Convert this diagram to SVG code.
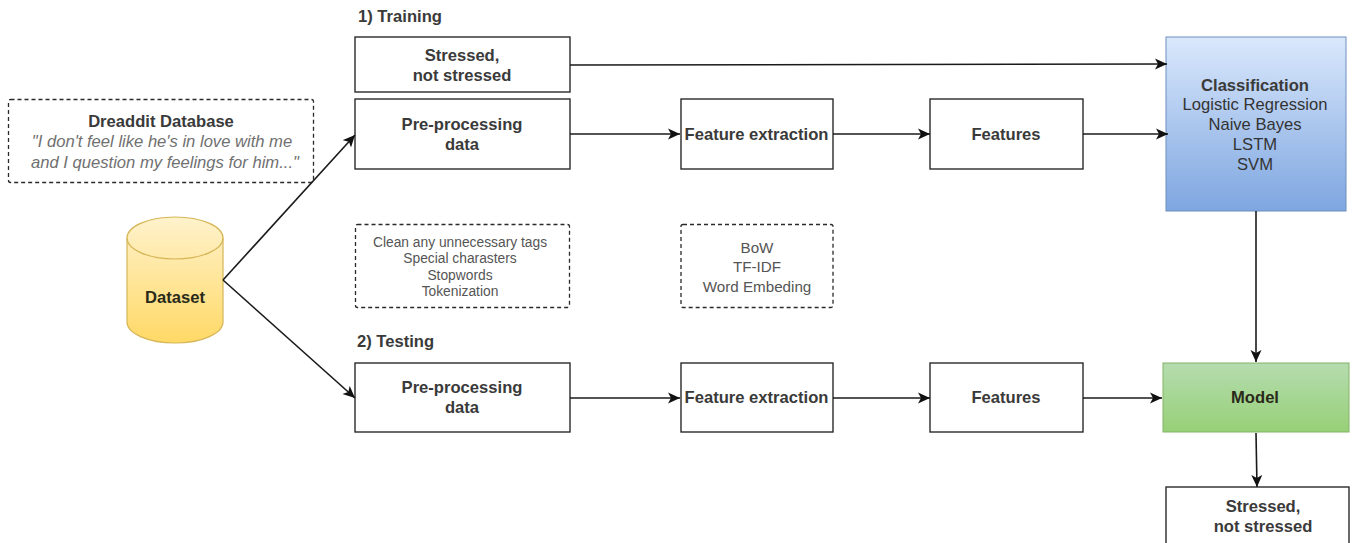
<svg xmlns="http://www.w3.org/2000/svg" width="1356" height="543" viewBox="0 0 1356 543">
<style>
text{font-family:"Liberation Sans",Arial,sans-serif;font-size:16.6px;text-anchor:middle;fill:#333;transform:translateY(.8px)}
.b{font-weight:bold;fill:#3a3a3a}
.box{fill:#fff;stroke:#2a2a2a;stroke-width:1.4}
.dash{fill:#fff;stroke:#2a2a2a;stroke-width:1.3;stroke-dasharray:4 3}
.c{fill:none;stroke:#1a1a1a;stroke-width:1.6;marker-end:url(#a)}
.s{font-size:13.8px;fill:#555}
.m{font-size:15.2px;fill:#555}
.i{font-style:italic;fill:#707070}
.l{text-anchor:start;font-weight:bold;fill:#3a3a3a}
.k{font-weight:bold;fill:#2a2a1a}
</style>
<defs>
<marker id="a" markerUnits="userSpaceOnUse" markerWidth="13" markerHeight="13" refX="12" refY="6" orient="auto"><path d="M0 0.500L12 6L0 11.500L3 6Z" fill="#111"/></marker>
<linearGradient id="y" x1="0" y1="0" x2="0" y2="1"><stop offset="0" stop-color="#fff2cc"/><stop offset="1" stop-color="#ffd966"/></linearGradient>
<linearGradient id="bl" x1="0" y1="0" x2="0" y2="1"><stop offset="0" stop-color="#dae8fc"/><stop offset="1" stop-color="#7ea6e0"/></linearGradient>
<linearGradient id="g" x1="0" y1="0" x2="0" y2="1"><stop offset="0" stop-color="#b5dcaf"/><stop offset="1" stop-color="#97d077"/></linearGradient>
</defs>
<text class="l" x="358" y="21">1) Training</text>
<text class="l" x="357" y="346">2) Testing</text>
<g id="stressed-top"><rect class="box" x="355" y="37" width="215" height="55"/><text class="b" x="462" y="60">Stressed,</text><text class="b" x="462" y="80">not stressed</text></g>
<g id="pre1"><rect class="box" x="355" y="99" width="215" height="70"/><text class="b" x="462" y="129">Pre-processing</text><text class="b" x="462" y="149">data</text></g>
<g id="fe1"><rect class="box" x="681" y="99" width="152" height="70"/><text class="b" x="756.500" y="139">Feature extraction</text></g>
<g id="f1"><rect class="box" x="930" y="99" width="153" height="70"/><text class="b" x="1006" y="139">Features</text></g>
<g id="db-note"><rect class="dash" x="8.500" y="99.500" width="305" height="83" rx="2"/><text class="b" x="161" y="126">Dreaddit Database</text><text class="i" x="162" y="146">"I don't feel like he's in love with me</text><text class="i" x="165" y="167">and I question my feelings for him..."</text></g>
<g id="dataset"><path d="M127 238A48 21 0 0 1 223 238V322A48 21 0 0 1 127 322Z" fill="url(#y)" stroke="#d6b656" stroke-width="1.2"/><path d="M127 238A48 21 0 0 0 223 238" fill="none" stroke="#d6b656" stroke-width="1.2"/><text class="k" x="175" y="302">Dataset</text></g>
<g id="clean-note"><rect class="dash" x="355.500" y="224.500" width="214" height="83" rx="2"/><text class="s" x="460" y="246">Clean any unnecessary tags</text><text class="s" x="460" y="262">Special charasters</text><text class="s" x="460" y="279">Stopwords</text><text class="s" x="460" y="295">Tokenization</text></g>
<g id="feat-note"><rect class="dash" x="681" y="224.500" width="152" height="83" rx="2"/><text class="m" x="757" y="252">BoW</text><text class="m" x="757" y="271">TF-IDF</text><text class="m" x="757" y="291">Word Embeding</text></g>
<g id="pre2"><rect class="box" x="355" y="363" width="215" height="69"/><text class="b" x="462" y="392">Pre-processing</text><text class="b" x="462" y="412">data</text></g>
<g id="fe2"><rect class="box" x="681" y="363" width="152" height="69"/><text class="b" x="756.500" y="402">Feature extraction</text></g>
<g id="f2"><rect class="box" x="930" y="363" width="153" height="69"/><text class="b" x="1006" y="402">Features</text></g>
<g id="classification"><rect x="1166" y="37" width="180" height="174" fill="url(#bl)" stroke="#6c8ebf" stroke-width="1"/><text class="b" x="1255" y="90">Classification</text><text x="1255" y="109">Logistic Regression</text><text x="1255" y="129">Naive Bayes</text><text x="1255" y="149">LSTM</text><text x="1255" y="169">SVM</text></g>
<g id="model"><rect x="1163" y="363" width="186" height="69" fill="url(#g)" stroke="#82b366" stroke-width="1"/><text class="k" x="1255" y="402">Model</text></g>
<g id="output"><rect class="box" x="1166" y="487" width="183" height="60"/><text class="b" x="1263" y="511">Stressed,</text><text class="b" x="1263" y="531">not stressed</text></g>
<g id="connectors">
<path class="c" d="M570 65L1167 64"/>
<path class="c" d="M570 134L680 134"/>
<path class="c" d="M833 134L930 134"/>
<path class="c" d="M1083 134L1168 134"/>
<path class="c" d="M223 280L355 135"/>
<path class="c" d="M223 280L355 398"/>
<path class="c" d="M570 398L680 398"/>
<path class="c" d="M833 398L930 398"/>
<path class="c" d="M1083 398L1162 398"/>
<path class="c" d="M1256 211L1256 362"/>
<path class="c" d="M1256 433L1257 487"/>
</g>
</svg>
